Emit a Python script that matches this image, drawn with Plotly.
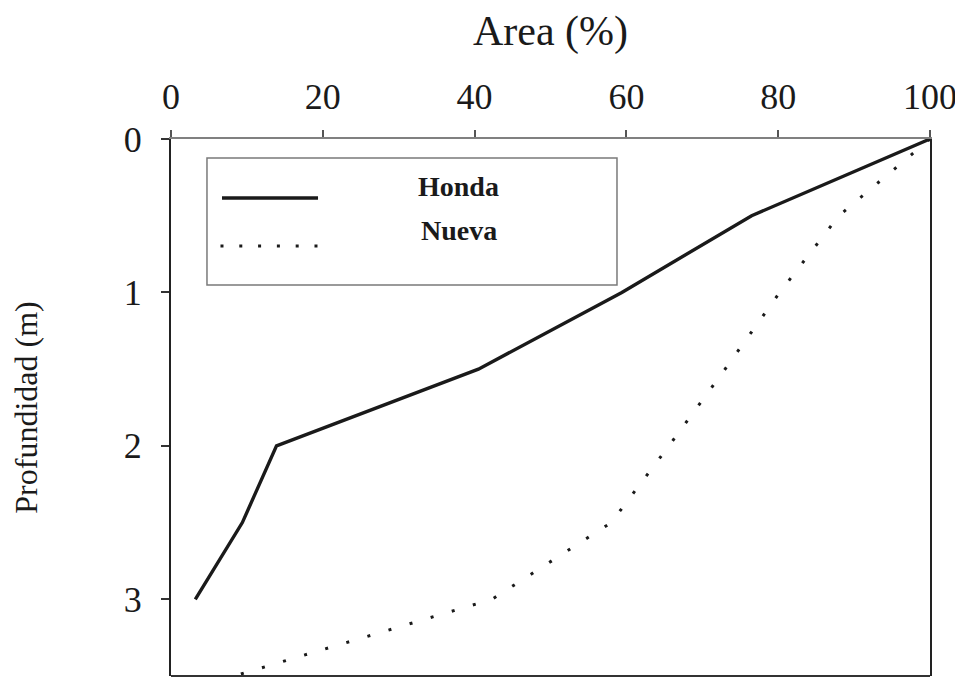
import plotly.graph_objects as go

# Data
depth_honda = [0, 0.5, 1.0, 1.5, 2.0, 2.5, 3.0]
area_honda = [100, 76.5, 59.4, 40.5, 13.9, 9.4, 3.2]

depth_nueva = [0, 0.5, 1.0, 1.5, 2.0, 2.5, 3.0, 3.5]
area_nueva = [100, 88.0, 80.2, 73.0, 65.6, 58.0, 42.3, 8.3]

x_ticks = [0, 20, 40, 60, 80, 100]
y_ticks = [0, 1, 2, 3]
series_names = ["Honda", "Nueva"]

FONT = "Liberation Serif, Times New Roman, serif"
INK = "#1a1a1a"

fig = go.Figure()
fig.add_trace(go.Scatter(x=area_honda, y=depth_honda, mode="lines", name=series_names[0],
                         line=dict(color=INK, width=3.4), showlegend=False))
fig.add_trace(go.Scatter(x=area_nueva, y=depth_nueva, mode="lines", name=series_names[1],
                         line=dict(color=INK, width=3, dash="3px,19px"), showlegend=False))

# Legend drawn as a box with sample lines (paper coords)
box = dict(x0=0.0474, x1=0.5876, y0=0.728, y1=0.9646)
fig.add_shape(type="rect", xref="paper", yref="paper", **box,
              line=dict(color="#7a7a7a", width=1.5), fillcolor="white")
fig.add_shape(type="line", xref="paper", yref="paper", x0=0.0672, x1=0.1937, y0=0.890, y1=0.890,
              line=dict(color=INK, width=3.4))
fig.add_shape(type="line", xref="paper", yref="paper", x0=0.0652, x1=0.1950, y0=0.8007, y1=0.8007,
              line=dict(color=INK, width=3, dash="3px,15.8px"))
fig.add_annotation(xref="paper", yref="paper", x=0.379, y=0.912, text="<b>Honda</b>",
                   showarrow=False, xanchor="center", yanchor="middle",
                   font=dict(family=FONT, size=28, color=INK))
fig.add_annotation(xref="paper", yref="paper", x=0.379, y=0.8305, text="<b>Nueva</b>",
                   showarrow=False, xanchor="center", yanchor="middle",
                   font=dict(family=FONT, size=28, color=INK))

# Bottom border
fig.add_shape(type="line", xref="paper", yref="paper", x0=0, x1=1, y0=0, y1=0,
              line=dict(color="#333333", width=2))

# The page body has an 8px default margin, so the figure is sized to compensate.
fig.update_layout(
    width=955, height=669,
    margin=dict(l=163, r=33, t=131, b=1),
    paper_bgcolor="white", plot_bgcolor="white",
    font=dict(family=FONT, color=INK),
    xaxis=dict(side="top", range=[0, 100], tickvals=x_ticks, ticktext=[str(v) for v in x_ticks],
               showgrid=False, zeroline=False, showline=True, linecolor="#808080", linewidth=1.5,
               ticks="outside", ticklen=7, tickwidth=1.5, tickcolor="#555555",
               tickfont=dict(size=36, family=FONT, color=INK), ticklabelstandoff=7,
               ticklabeloverflow="allow",
               title=dict(text="Area (%)", font=dict(size=42, family=FONT, color=INK), standoff=25)),
    yaxis=dict(range=[3.5, 0], tickvals=y_ticks, ticktext=[str(v) for v in y_ticks],
               showgrid=False, zeroline=False, showline=True, linecolor="#222222", linewidth=2,
               mirror=True,
               ticks="outside", ticklen=8, tickwidth=1.5, tickcolor="#333333",
               tickfont=dict(size=36, family=FONT, color=INK), ticklabelstandoff=12,
               ticklabeloverflow="allow",
               title=dict(text="Profundidad (m)", font=dict(size=32, family=FONT, color=INK), standoff=80)),
)

fig.write_html("out.html")
